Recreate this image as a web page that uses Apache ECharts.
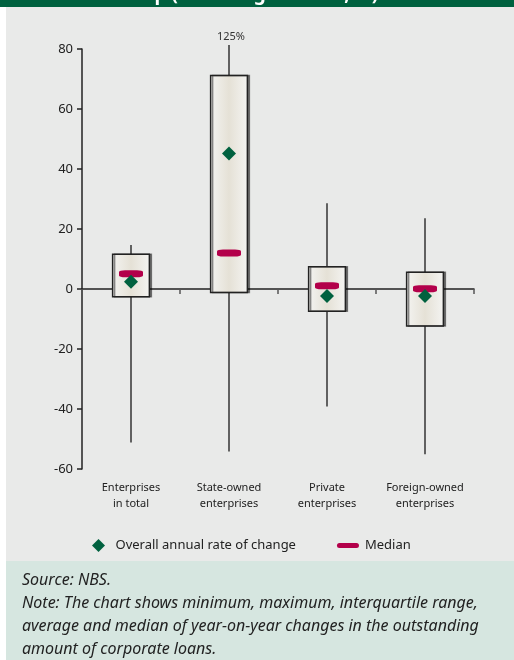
<!DOCTYPE html>
<html>
<head>
<meta charset="utf-8">
<script src="https://cdn.jsdelivr.net/npm/echarts@6/dist/echarts.min.js"></script>
<style>
html,body{margin:0;padding:0;background:#fff}
#chart{width:514px;height:660px}
</style>
</head>
<body>
<div id="chart"></div>
<script>
/* data */
var categories = ['Enterprises\nin total', 'State-owned\nenterprises', 'Private\nenterprises', 'Foreign-owned\nenterprises'];
var minValues = [-51.2, -54.2, -39.2, -55.1];
var q1Values = [-2.6, -1.2, -7.4, -12.3];
var q3Values = [11.6, 71.2, 7.4, 5.6];
var maxValues = [14.7, 125, 28.6, 23.6];
var medianValues = [5.1, 12.0, 1.1, 0.1];
var averageValues = [2.4, 45.2, -2.3, -2.3];
var yMin = -60, yMax = 80, yStep = 20;

var font = '"Noto Sans", "Open Sans", sans-serif';
var chart = echarts.init(document.getElementById('chart'));

var boxData = categories.map(function (c, i) {
	return [i, minValues[i], q1Values[i], q3Values[i], maxValues[i]];
});
var medianData = categories.map(function (c, i) { return [i, medianValues[i]]; });
var averageData = categories.map(function (c, i) { return [i, averageValues[i]]; });

function renderBox(params, api) {
	var i = api.value(0);
	var lo = api.value(1), q1 = api.value(2), q3 = api.value(3), hi = api.value(4);
	var shownHi = Math.min(hi, yMax + 1.3); // whisker cut just above the axis
	var x = api.coord([i, 0])[0];
	var yLo = api.coord([i, lo])[1];
	var yHi = api.coord([i, shownHi])[1];
	var yQ1 = api.coord([i, q1])[1];
	var yQ3 = api.coord([i, q3])[1];
	var w = api.size([1, 0])[0] * 0.375;
	var kids = [
		{
			type: 'line',
			shape: { x1: x, y1: yLo, x2: x, y2: yHi },
			style: { stroke: '#333', lineWidth: 1.5 }
		},
		{
			type: 'rect',
			shape: { x: x - w / 2, y: yQ3, width: w, height: yQ1 - yQ3 },
			style: {
				fill: new echarts.graphic.LinearGradient(0, 0, 1, 0, [
					{ offset: 0, color: '#f4f4f2' },
					{ offset: 0.5, color: '#e5e1d6' },
					{ offset: 1, color: '#f4f4f2' }
				]),
				stroke: '#222',
				lineWidth: 1.5,
				shadowColor: 'rgba(0,0,0,0.45)',
				shadowOffsetX: 2,
				shadowBlur: 0
			}
		}
	];
	if (hi > yMax) {
		kids.push({
			type: 'text',
			style: {
				text: hi + '%',
				x: x + 2,
				y: yHi - 3,
				align: 'center',
				verticalAlign: 'bottom',
				font: '11px ' + font,
				fill: '#333'
			}
		});
	}
	return { type: 'group', children: kids };
}

var option = {
	animation: false,
	textStyle: { fontFamily: font },
	grid: { left: 82, right: 40, top: 49, bottom: 191 },
	legend: {
		left: 87,
		top: 534,
		itemWidth: 22,
		itemHeight: 13,
		itemGap: 41,
		textStyle: { fontSize: 13, color: '#222', fontFamily: font, padding: [0, 0, 0, 1] },
		data: [
			{ name: 'Overall annual rate of change', icon: 'path://M5,0L10,5L5,10L0,5Z' },
			{ name: 'Median', icon: 'path://M2.5,0H19.5A2.5,2.5,0,0,1,19.5,5H2.5A2.5,2.5,0,0,1,2.5,0Z' }
		]
	},
	xAxis: [
		{
			type: 'category',
			data: categories,
			position: 'bottom',
			axisLine: { onZero: true, lineStyle: { color: '#222', width: 1.5 } },
			axisTick: { show: true, interval: 0, length: 5, lineStyle: { color: '#555', width: 1.5 } },
			axisLabel: { show: false },
			splitLine: { show: false }
		},
		{
			type: 'category',
			data: categories,
			position: 'bottom',
			axisLine: { show: false, onZero: false },
			axisTick: { show: false },
			axisLabel: { interval: 0, margin: 11, fontSize: 11, lineHeight: 16, color: '#222' },
			splitLine: { show: false }
		}
	],
	yAxis: {
		type: 'value',
		min: yMin,
		max: yMax,
		interval: yStep,
		axisLine: { show: true, lineStyle: { color: '#222', width: 1.5 } },
		axisTick: { show: true, length: 5, lineStyle: { color: '#222', width: 1.5 } },
		axisLabel: { fontSize: 13, color: '#222', margin: 9 },
		splitLine: { show: false }
	},
	series: [
		{
			name: 'boxes',
			type: 'custom',
			xAxisIndex: 0,
			renderItem: renderBox,
			encode: { x: 0, y: [1, 2, 3, 4] },
			data: boxData,
			z: 2
		},
		{
			name: 'Median',
			type: 'scatter',
			xAxisIndex: 0,
			symbol: 'roundRect',
			symbolSize: [24, 7],
			itemStyle: { color: '#b3004a', opacity: 1 },
			data: medianData,
			z: 3
		},
		{
			name: 'Overall annual rate of change',
			type: 'scatter',
			xAxisIndex: 0,
			symbol: 'diamond',
			symbolSize: 14,
			itemStyle: { color: '#00613f', opacity: 1 },
			data: averageData,
			z: 4
		}
	],
	graphic: [
		{ type: 'rect', z: -30, shape: { x: 0, y: 0, width: 514, height: 7 }, style: { fill: '#00613f' } },
		{
			type: 'text', z: -20, x: 22, y: 4,
			style: { text: 'firm ownership (as at August 2014, %)', fill: '#fff', font: 'bold 19px ' + font, verticalAlign: 'bottom' }
		},
		{ type: 'rect', z: -10, shape: { x: 6, y: 7, width: 508, height: 554 }, style: { fill: '#e9eae9' } },
		{ type: 'rect', z: -10, shape: { x: 6, y: 561, width: 508, height: 99 }, style: { fill: '#d6e6e0' } },
		{
			type: 'text', z: 5, x: 22, y: 569,
			style: {
				text: 'Source: NBS.\nNote: The chart shows minimum, maximum, interquartile range,\naverage and median of year-on-year changes in the outstanding\namount of corporate loans.',
				font: 'italic 16px ' + font,
				lineHeight: 23,
				fill: '#222'
			}
		}
	]
};
chart.setOption(option);
</script>
</body>
</html>
